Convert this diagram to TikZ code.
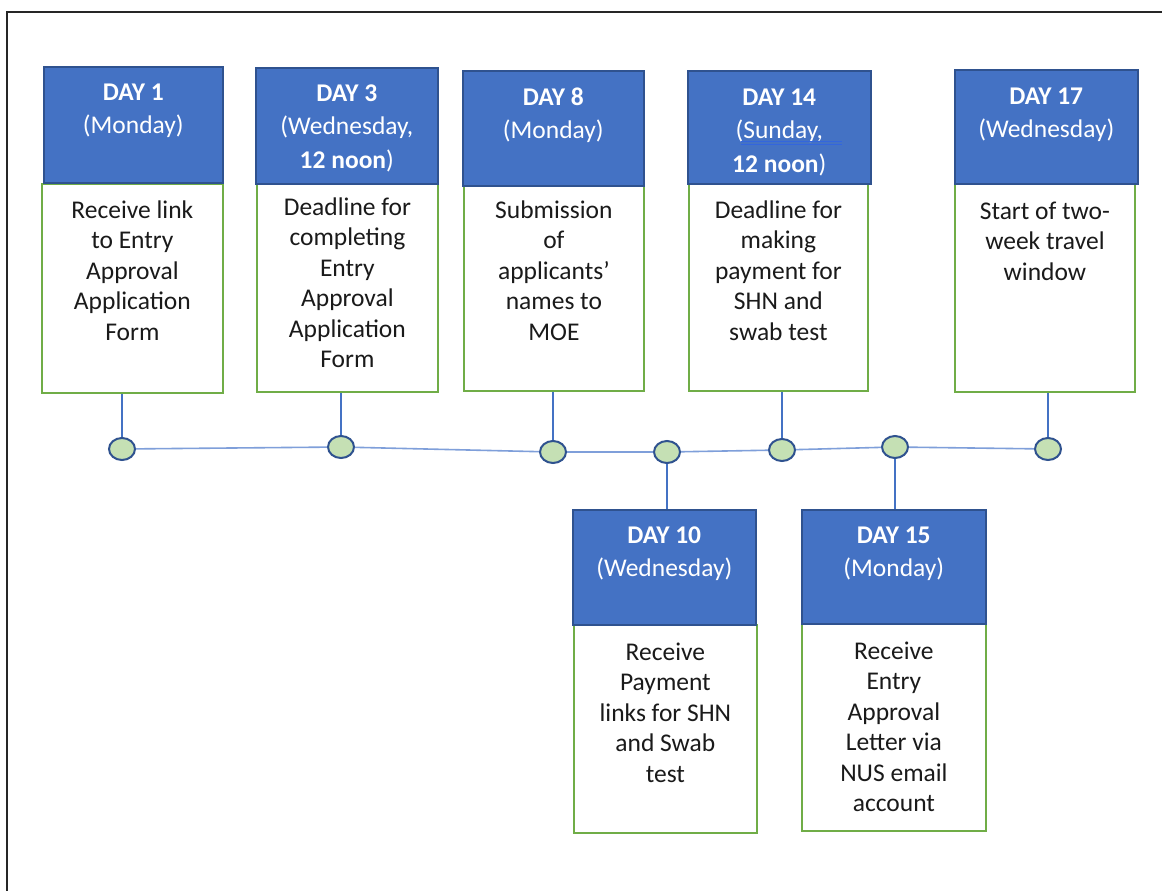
\documentclass[tikz,border=0pt]{standalone}
\usepackage{fontspec}
\setmainfont{Carlito}
\usetikzlibrary{shapes.geometric}
\definecolor{hdrblue}{HTML}{4472C4}
\definecolor{hdredge}{HTML}{2F528F}
\definecolor{boxgreen}{HTML}{70AD47}
\definecolor{dotfill}{HTML}{C5E0B4}
\definecolor{stemblue}{HTML}{4472C4}
\definecolor{tlblue}{HTML}{7F9FDA}
\definecolor{txt}{HTML}{1A1A1A}
\definecolor{squig}{HTML}{3366DD}
\tikzset{
  hdrbox/.style={draw=hdredge, fill=hdrblue, line width=1.6pt, inner sep=0pt, anchor=north west},
  bodybox/.style={draw=boxgreen, fill=white, line width=1.8pt, inner sep=0pt, anchor=north west},
  hdrtxt/.style={text=white, align=center, inner sep=0pt, anchor=north, font=\fontsize{25.5}{33.5}\selectfont},
  bodytxt/.style={text=txt, align=center, inner sep=0pt, anchor=north, font=\fontsize{25.5}{30.5}\selectfont},
  dot/.style={ellipse, draw=hdredge, fill=dotfill, line width=2pt, minimum width=26pt, minimum height=22pt, inner sep=0pt},
  stem/.style={draw=stemblue, line width=1.1pt},
  tline/.style={draw=tlblue, line width=1.6pt}
}
\begin{document}
\begin{tikzpicture}[x=1pt,y=-1pt]
\useasboundingbox (0,0) rectangle (1162,891);
\fill[white] (0,0) rectangle (1162,891);
\draw[black!85, line width=1.2pt] (7,895) -- (7,12) -- (1170,12);

% dots
\node[dot] (c1) at (122,449) {};
\node[dot] (c3) at (341,447) {};
\node[dot] (c8) at (553,452) {};
\node[dot] (c10) at (667,452) {};
\node[dot] (c14) at (782,450) {};
\node[dot] (c15) at (895,447) {};
\node[dot] (c17) at (1048,449) {};
\draw[tline] (c1) -- (c3) -- (c8) -- (c10) -- (c14) -- (c15) -- (c17);

% boxes
\node[bodybox, minimum width=181pt, minimum height=209pt] (g1) at (41,183) {};
\node[hdrbox, minimum width=179pt, minimum height=116pt] (h1) at (43,66) {};
\node[bodybox, minimum width=181pt, minimum height=208pt] (g3) at (256,183) {};
\node[hdrbox, minimum width=182pt, minimum height=116pt] (h3) at (255,67) {};
\node[bodybox, minimum width=180pt, minimum height=205pt] (g8) at (463,185) {};
\node[hdrbox, minimum width=181pt, minimum height=115pt] (h8) at (462,70) {};
\node[bodybox, minimum width=179pt, minimum height=207pt] (g14) at (688,183) {};
\node[hdrbox, minimum width=183pt, minimum height=113pt] (h14) at (687,70) {};
\node[bodybox, minimum width=180pt, minimum height=208pt] (g17) at (954,183) {};
\node[hdrbox, minimum width=183pt, minimum height=114pt] (h17) at (954,69) {};
\node[bodybox, minimum width=183pt, minimum height=208pt] (g10) at (573,624) {};
\node[hdrbox, minimum width=183pt, minimum height=115pt] (h10) at (572,509) {};
\node[bodybox, minimum width=184pt, minimum height=207pt] (g15) at (801,623) {};
\node[hdrbox, minimum width=184pt, minimum height=114pt] (h15) at (801,509) {};

% stems
\draw[stem] (g1.south -| c1) -- (c1);
\draw[stem] (g3.south -| c3) -- (c3);
\draw[stem] (g8.south -| c8) -- (c8);
\draw[stem] (g14.south -| c14) -- (c14);
\draw[stem] (g17.south -| c17) -- (c17);
\draw[stem] (c10) -- (h10.north -| c10);
\draw[stem] (c15) -- (h15.north -| c15);

% header texts
\node[hdrtxt, yshift=-17.5pt] (ht1) at (h1.north) {\textbf{DAY 1}\\(Monday)};
\node[hdrtxt, yshift=-17.5pt] (ht3) at (h3.north) {\textbf{DAY 3}\\(Wednesday,\\\textbf{12 noon})};
\node[hdrtxt, yshift=-17.5pt] (ht8) at (h8.north) {\textbf{DAY 8}\\(Monday)};
\node[hdrtxt, yshift=-18.5pt] (ht14) at (h14.north) {\textbf{DAY 14}\\(Sunday,\\\textbf{12 noon})};
\node[hdrtxt, yshift=-18.5pt] (ht17) at (h17.north) {\textbf{DAY 17}\\(Wednesday)};
\node[hdrtxt, yshift=-17.5pt] (ht10) at (h10.north) {\textbf{DAY 10}\\(Wednesday)};
\node[hdrtxt, yshift=-17.5pt] (ht15) at (h15.north) {\textbf{DAY 15}\\(Monday)};
\draw[squig, line width=0.8pt] (741,141) -- (842,141);
\draw[squig, line width=0.8pt] (741,144) -- (842,144);

% body texts
\node[bodytxt, yshift=-17.5pt] (bt1) at (g1.north) {Receive link\\to Entry\\Approval\\Application\\Form};
\node[bodytxt, yshift=-14.5pt] (bt3) at (g3.north) {Deadline for\\completing\\Entry\\Approval\\Application\\Form};
\node[bodytxt, yshift=-15.5pt] (bt8) at (g8.north) {Submission\\of\\applicants’\\names to\\MOE};
\node[bodytxt, yshift=-17.5pt] (bt14) at (g14.north) {Deadline for\\making\\payment for\\SHN and\\swab test};
\node[bodytxt, yshift=-18.5pt] (bt17) at (g17.north) {Start of two-\\week travel\\window};
\node[bodytxt, yshift=-18.5pt] (bt10) at (g10.north) {Receive\\Payment\\links for SHN\\and Swab\\test};
\node[bodytxt, yshift=-18.5pt] (bt15) at (g15.north) {Receive\\Entry\\Approval\\Letter via\\NUS email\\account};
\end{tikzpicture}
\end{document}
